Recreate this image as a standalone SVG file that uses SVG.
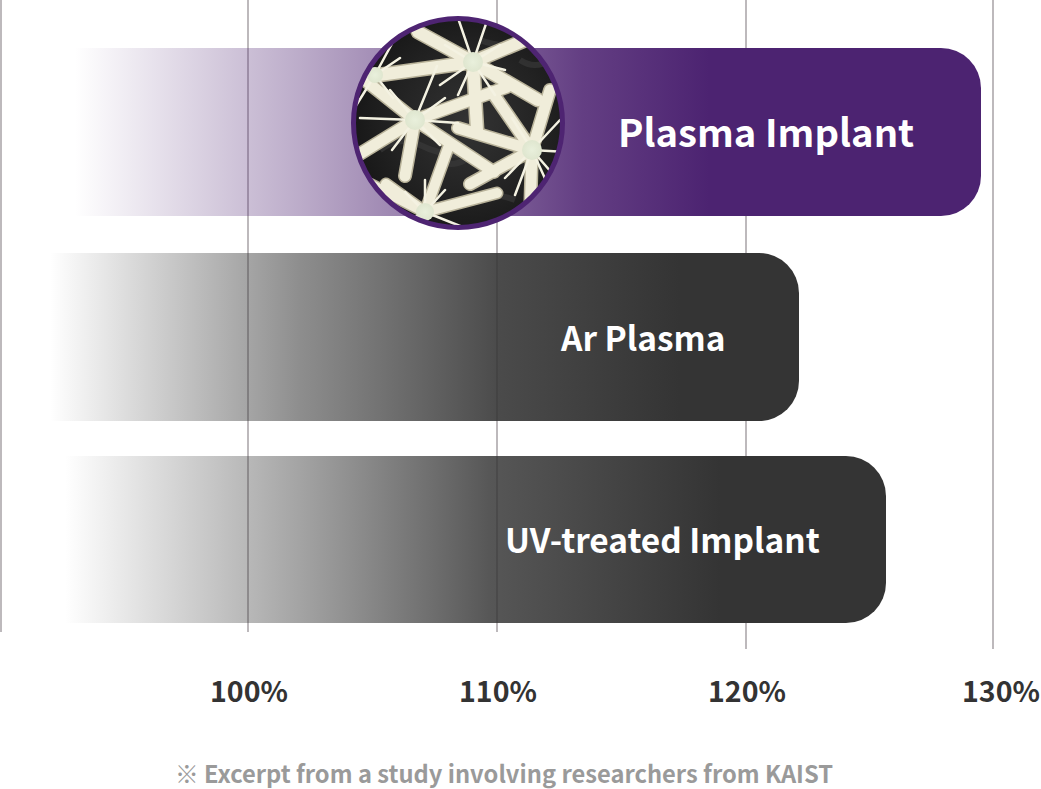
<svg xmlns="http://www.w3.org/2000/svg" xmlns:xlink="http://www.w3.org/1999/xlink" width="1041" height="789" viewBox="0 0 1041 789">
  <style>
    .grid { stroke: #bdb9bc; stroke-width: 2; fill: none; }
    .lbl { font-family: "Noto Sans CJK KR", "Noto Sans", sans-serif; font-weight: 700; fill: #ffffff; }
    .axis { font-family: "Noto Sans CJK KR", "Noto Sans", sans-serif; font-weight: 700; fill: #333333; font-size: 28.5px; text-anchor: middle; }
    .note { font-family: "Noto Sans CJK KR", "Noto Sans", sans-serif; font-weight: 700; fill: #9a9a9a; font-size: 23.7px; }
    .nd { stroke: #b8b299; fill: none; stroke-linecap: round; }
    .nl { stroke: #f0edda; fill: none; stroke-linecap: round; }
    .sp { stroke: #f4f2e2; fill: none; stroke-width: 2.5; stroke-linecap: round; }
  </style>
  <defs>
    <linearGradient id="gP" gradientUnits="userSpaceOnUse" x1="75" y1="0" x2="981" y2="0">
      <stop offset="0" stop-color="#4e2472" stop-opacity="0"/>
      <stop offset="0.248" stop-color="#4e2472" stop-opacity="0.38"/>
      <stop offset="0.56" stop-color="#4e2472" stop-opacity="0.88"/>
      <stop offset="0.70" stop-color="#4c2371" stop-opacity="1"/>
      <stop offset="1" stop-color="#4c2371" stop-opacity="1"/>
    </linearGradient>
    <linearGradient id="gA" gradientUnits="userSpaceOnUse" x1="50" y1="0" x2="799" y2="0">
      <stop offset="0" stop-color="#343434" stop-opacity="0"/>
      <stop offset="0.334" stop-color="#343434" stop-opacity="0.56"/>
      <stop offset="0.601" stop-color="#343434" stop-opacity="0.89"/>
      <stop offset="0.841" stop-color="#343434" stop-opacity="1"/>
      <stop offset="1" stop-color="#343434" stop-opacity="1"/>
    </linearGradient>
    <linearGradient id="gU" gradientUnits="userSpaceOnUse" x1="65" y1="0" x2="886" y2="0">
      <stop offset="0" stop-color="#343434" stop-opacity="0"/>
      <stop offset="0.286" stop-color="#343434" stop-opacity="0.45"/>
      <stop offset="0.518" stop-color="#343434" stop-opacity="0.83"/>
      <stop offset="0.798" stop-color="#343434" stop-opacity="1"/>
      <stop offset="1" stop-color="#343434" stop-opacity="1"/>
    </linearGradient>
    <radialGradient id="gBg" cx="0.55" cy="0.5" r="0.6">
      <stop offset="0" stop-color="#333333"/>
      <stop offset="0.6" stop-color="#222222"/>
      <stop offset="1" stop-color="#141414"/>
    </radialGradient>
    <radialGradient id="gCore" cx="0.5" cy="0.5" r="0.5">
      <stop offset="0" stop-color="#e9f0dc"/>
      <stop offset="1" stop-color="#dfe6cf"/>
    </radialGradient>
    <clipPath id="clipC">
      <circle cx="458" cy="123" r="104"/>
    </clipPath>
  </defs>

  <g id="gridlines">
    <line class="grid" x1="1" y1="0" x2="1" y2="632"/>
    <line class="grid" x1="248" y1="0" x2="248" y2="632"/>
    <line class="grid" x1="497" y1="0" x2="497" y2="632"/>
    <line class="grid" x1="746" y1="0" x2="746" y2="649"/>
    <line class="grid" x1="993" y1="0" x2="993" y2="649"/>
  </g>

  <g id="bar-plasma-implant">
    <path d="M75,48 H941 A40,40 0 0 1 981,88 V176 A40,40 0 0 1 941,216 H75 Z" fill="url(#gP)"/>
    <text class="lbl" x="618" y="147" font-size="38.2">Plasma Implant</text>
  </g>

  <g id="bar-ar-plasma">
    <path d="M50,253 H759 A40,40 0 0 1 799,293 V381 A40,40 0 0 1 759,421 H50 Z" fill="url(#gA)"/>
    <text class="lbl" x="561" y="351" font-size="33.4">Ar Plasma</text>
  </g>

  <g id="bar-uv-treated">
    <path d="M65,456 H846 A40,40 0 0 1 886,496 V583 A40,40 0 0 1 846,623 H65 Z" fill="url(#gU)"/>
    <text class="lbl" x="505" y="553" font-size="33.4">UV-treated Implant</text>
  </g>

  <g id="photo-circle">
    <g clip-path="url(#clipC)">
      <rect x="350" y="15" width="216" height="216" fill="url(#gBg)"/>
      <path d="M380,150 q20,-15 40,-5 t40,10 M470,200 q20,-10 45,0 M480,40 q25,10 50,0 M360,200 q15,-10 30,5 M520,60 q15,10 30,0 M440,160 q10,8 25,0" stroke="#3c3c3c" stroke-width="6" fill="none" opacity="0.6"/>
      <g id="needles-thick">
        <path id="tA" d="M473,62 L418,32 M473,62 L530,38 M473,62 L477,130 M473,62 L538,100 M473,62 L372,76"/>
        <path id="tB" d="M415,120 L507,87 M415,120 L494,172 M415,120 L405,176 M415,120 L358,155 M415,120 L352,70"/>
        <path id="tC" d="M532,150 L550,90 M532,150 L492,92 M532,150 L470,184 M532,150 L530,218 M532,150 L458,128"/>
        <path id="tE" d="M425,212 L448,148 M425,212 L497,193 M425,212 L386,184 M425,212 L352,175"/>
        <use xlink:href="#tA" class="nd" stroke-width="15"/>
        <use xlink:href="#tB" class="nd" stroke-width="14"/>
        <use xlink:href="#tC" class="nd" stroke-width="14"/>
        <use xlink:href="#tE" class="nd" stroke-width="13"/>
        <use xlink:href="#tA" class="nl" stroke-width="12"/>
        <use xlink:href="#tB" class="nl" stroke-width="11"/>
        <use xlink:href="#tC" class="nl" stroke-width="11"/>
        <use xlink:href="#tE" class="nl" stroke-width="10"/>
      </g>
      <g id="needles-spikes">
        <path class="sp" d="M473,62 L458,18 M473,62 L488,18 M473,62 L500,45 M473,62 L505,70 M473,62 L445,45 M473,62 L440,85 M473,62 L495,95 M473,62 L458,95"/>
        <path class="sp" d="M415,120 L437,66 M415,120 L458,123 M415,120 L445,98 M415,120 L360,118 M415,120 L390,90 M415,120 L440,145 M415,120 L392,150"/>
        <path class="sp" d="M532,150 L568,152 M532,150 L565,188 M532,150 L512,118 M532,150 L560,120 M532,150 L505,178 M532,150 L548,185 M532,150 L515,195"/>
        <path class="sp" d="M375,75 L395,38 M375,75 L355,52 M375,75 L352,112 M375,75 L400,58 M375,75 L350,88 M375,75 L393,98"/>
        <path class="sp" d="M425,212 L425,180 M425,212 L465,228 M425,212 L385,232 M425,212 L445,190 M425,212 L405,192"/>
      </g>
      <circle cx="473" cy="62" r="10" fill="url(#gCore)"/>
      <circle cx="415" cy="120" r="10" fill="url(#gCore)"/>
      <circle cx="532" cy="150" r="10" fill="url(#gCore)"/>
      <circle cx="375" cy="75" r="8" fill="url(#gCore)"/>
      <circle cx="425" cy="212" r="9" fill="url(#gCore)"/>
    </g>
    <circle cx="458" cy="123" r="104.5" fill="none" stroke="#4e2472" stroke-width="5"/>
  </g>

  <g id="axis-labels">
    <text class="axis" x="249" y="702">100%</text>
    <text class="axis" x="498" y="702">110%</text>
    <text class="axis" x="747" y="702">120%</text>
    <text class="axis" x="1001" y="702">130%</text>
  </g>

  <text id="footnote" class="note" x="175" y="783">※ Excerpt from a study involving researchers from KAIST</text>
</svg>
